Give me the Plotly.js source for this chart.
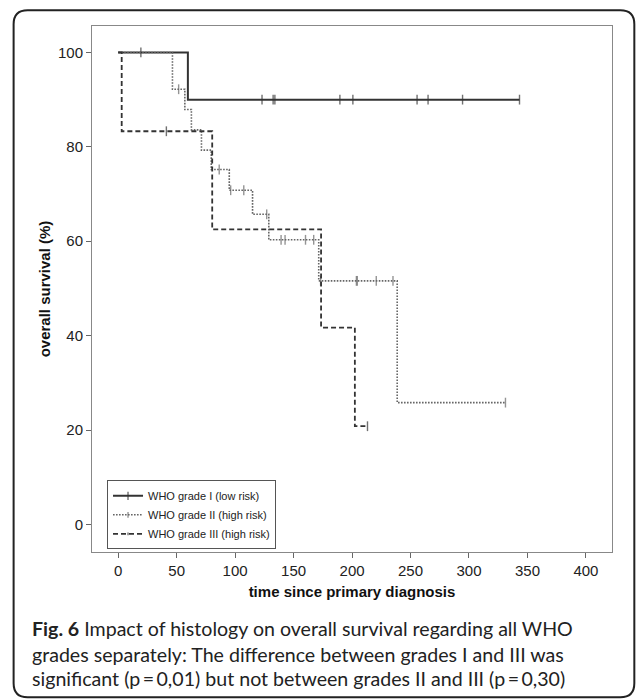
<!DOCTYPE html>
<html>
<head>
<meta charset="utf-8">
<script src="https://cdn.plot.ly/plotly-3.0.1.min.js"></script>
<style>html,body{margin:0;padding:0;background:#fff;}#chart{width:636px;height:699px;}</style>
</head>
<body>
<div id="chart"></div>
<script>
// ---- Data ----
const seriesNames = ["WHO grade I (low risk)", "WHO grade II (high risk)", "WHO grade III (high risk)"];

const gradeI_eventTimes = [59.6];
const gradeI_eventSurv  = [90.0];
const gradeI_censored   = [19.4, 123.0, 132.5, 134.0, 189.6, 200.7, 255.6, 265.0, 294.5, 343.2];

const gradeII_eventTimes = [46.4, 57.0, 62.6, 71.2, 79.6, 95.0, 114.9, 128.8, 171.5, 238.6];
const gradeII_eventSurv  = [92.2, 87.9, 83.6, 79.3, 75.2, 70.8, 65.7, 60.3, 51.6, 25.8];
const gradeII_censored   = [51.7, 86.4, 96.2, 107.4, 127.0, 139.3, 142.7, 160.2, 167.2, 173.1, 203.7, 204.5, 220.7, 235.0, 331.2];

const gradeIII_eventTimes = [3.0, 80.4, 173.5, 202.4];
const gradeIII_eventSurv  = [83.3, 62.5, 41.7, 20.8];
const gradeIII_censored   = [41.2, 213.2];

const xTickVals = [0, 50, 100, 150, 200, 250, 300, 350, 400];
const yTickVals = [0, 20, 40, 60, 80, 100];

const captionLines = [
  "<b>Fig. 6</b> Impact of histology on overall survival regarding all WHO",
  "grades separately: The difference between grades I and III was",
  "significant (p\u2009=\u20090,01) but not between grades II and III (p\u2009=\u20090,30)"
];

// ---- Build Kaplan-Meier step paths ----
function buildKM(evT, evS, cT) {
  const pts = [];
  evT.forEach((t, i) => pts.push({t: t, s: evS[i], c: false}));
  cT.forEach(t => pts.push({t: t, s: null, c: true}));
  pts.sort((a, b) => a.t - b.t);
  const x = [0], y = [100], size = [0];
  let cur = 100;
  pts.forEach(p => {
    if (!p.c) cur = p.s;
    x.push(p.t); y.push(cur); size.push(p.c ? 7 : 0);
  });
  return {x, y, size};
}

const styles = [
  {color: '#333333', width: 2.0, dash: 'solid'},
  {color: '#666666', width: 1.6, dash: '1.6px,1.4px'},
  {color: '#333333', width: 1.8, dash: '5px,3px'}
];
const data = [
  buildKM(gradeI_eventTimes, gradeI_eventSurv, gradeI_censored),
  buildKM(gradeII_eventTimes, gradeII_eventSurv, gradeII_censored),
  buildKM(gradeIII_eventTimes, gradeIII_eventSurv, gradeIII_censored)
];

const traces = data.map((d, i) => ({
  type: 'scatter',
  mode: 'lines+markers',
  name: seriesNames[i],
  x: d.x, y: d.y,
  line: {shape: 'hv', color: styles[i].color, width: styles[i].width, dash: styles[i].dash},
  marker: {symbol: 'line-ns-open', size: d.size, color: styles[i].color, line: {color: styles[i].color, width: 1.4}},
  hoverinfo: 'x+y'
}));

// ---- Layout geometry (pixels) ----
const W = 636, H = 699;
const PL = 92.3, PR = 611.7, PT = 25.7, PB = 551.7;
const pw = PR - PL, ph = PB - PT;
const X = px => (px - PL) / pw;
const Y = py => (PB - py) / ph;

// outer rounded frame
const fL = 14, fT = 10, fR = 634, fB = 697, r = 14;
const framePath =
  `M ${X(fL + r)},${Y(fT)} L ${X(fR - r)},${Y(fT)} Q ${X(fR)},${Y(fT)} ${X(fR)},${Y(fT + r)} ` +
  `L ${X(fR)},${Y(fB - r)} Q ${X(fR)},${Y(fB)} ${X(fR - r)},${Y(fB)} ` +
  `L ${X(fL + r)},${Y(fB)} Q ${X(fL)},${Y(fB)} ${X(fL)},${Y(fB - r)} ` +
  `L ${X(fL)},${Y(fT + r)} Q ${X(fL)},${Y(fT)} ${X(fL + r)},${Y(fT)} Z`;

const captionY = [628, 654, 678];
const annotations = captionLines.map((t, i) => ({
  xref: 'paper', yref: 'paper', x: X(30), y: Y(captionY[i]),
  xanchor: 'left', yanchor: 'middle', showarrow: false, align: 'left',
  text: t, font: {family: 'Lato, "Noto Sans", sans-serif', size: 19.6, color: '#222'}
}));

const axisFont = {family: '"Liberation Sans", Arial, sans-serif', size: 15, color: '#222'};

const layout = {
  width: W, height: H,
  margin: {l: PL, r: W - PR, t: PT, b: H - PB, pad: 0},
  paper_bgcolor: '#fff', plot_bgcolor: '#fff',
  showlegend: true,
  xaxis: {
    range: [-22.4, 422.3], tickvals: xTickVals, ticks: 'outside', ticklen: 5, tickwidth: 1, tickcolor: '#666',
    showgrid: false, zeroline: false, showline: true, mirror: true, linecolor: '#888', linewidth: 1,
    tickfont: axisFont,
    title: {text: '<b>time since primary diagnosis</b>', font: {family: '"Liberation Sans", Arial, sans-serif', size: 15, color: '#111'}, standoff: 8}
  },
  yaxis: {
    range: [-5.85, 105.6], tickvals: yTickVals, ticks: 'outside', ticklen: 5, tickwidth: 1, tickcolor: '#666',
    showgrid: false, zeroline: false, showline: true, mirror: true, linecolor: '#888', linewidth: 1,
    tickfont: axisFont,
    title: {text: '<b>overall survival (%)</b>', font: {family: '"Liberation Sans", Arial, sans-serif', size: 15, color: '#111'}, standoff: 3}
  },
  legend: {
    x: X(107.3), y: Y(480), xanchor: 'left', yanchor: 'top',
    bgcolor: '#fff', bordercolor: '#555', borderwidth: 1,
    font: {family: '"Liberation Sans", Arial, sans-serif', size: 11, color: '#222'},
    tracegroupgap: 0, itemwidth: 30
  },
  shapes: [{type: 'path', xref: 'paper', yref: 'paper', path: framePath, line: {color: '#222', width: 2}, fillcolor: 'rgba(0,0,0,0)'}],
  annotations: annotations
};

Plotly.newPlot('chart', traces, layout, {displayModeBar: false, staticPlot: true});
</script>
</body>
</html>
